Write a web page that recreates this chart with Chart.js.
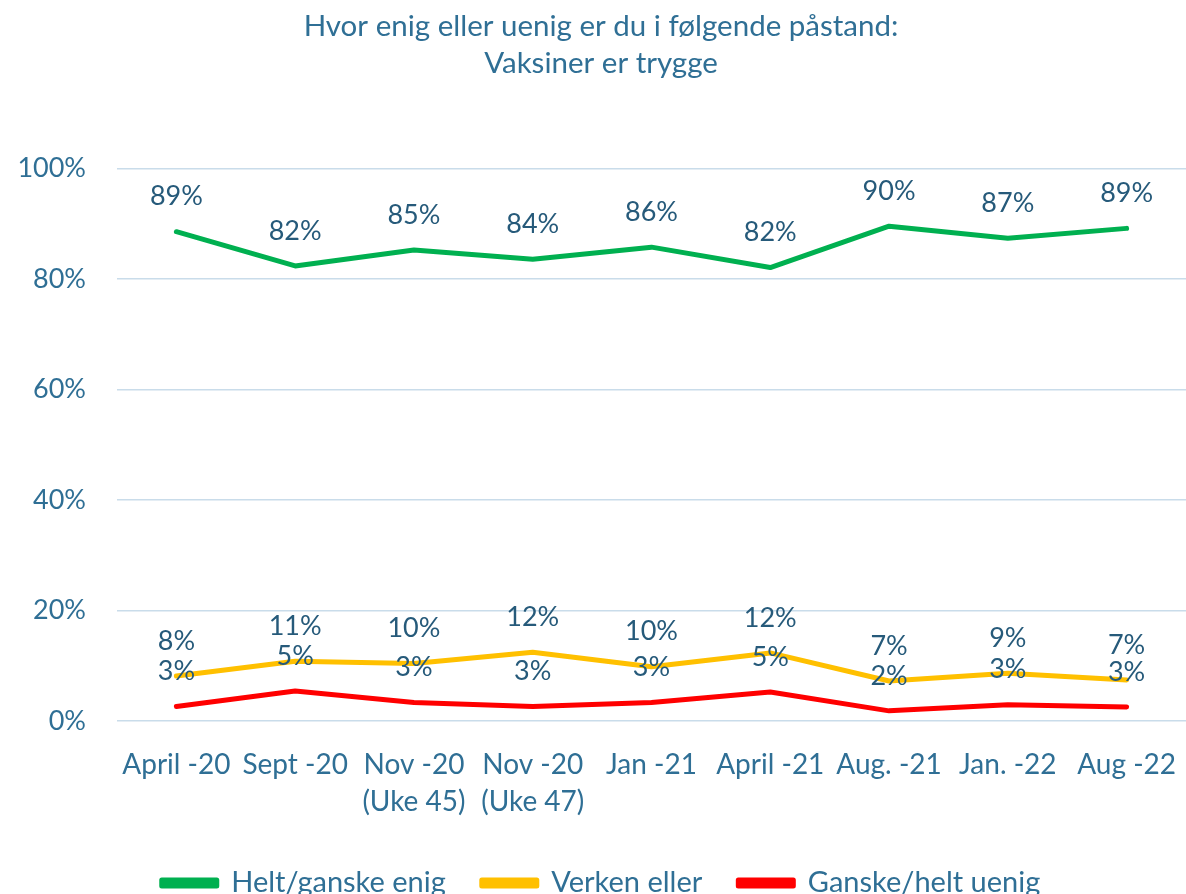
<!DOCTYPE html>
<html>
<head>
<meta charset="utf-8">
<script src="https://cdn.jsdelivr.net/npm/chart.js@4/dist/chart.umd.min.js"></script>
<style>
  html, body { margin: 0; padding: 0; background: #ffffff; }
  #wrap { width: 1186px; height: 894px; position: relative; overflow: hidden; }
</style>
</head>
<body>
<div id="wrap"><canvas id="c" width="1186" height="894"></canvas></div>
<script>
const categories = [
  "April -20", "Sept -20", ["Nov -20", "(Uke 45)"], ["Nov -20", "(Uke 47)"],
  "Jan -21", "April -21", "Aug. -21", "Jan. -22", "Aug -22"
];
const enigValues   = [88.6, 82.4, 85.3, 83.6, 85.8, 82.1, 89.6, 87.4, 89.2];
const verkenValues = [8.1, 10.8, 10.4, 12.4, 9.8, 12.3, 7.2, 8.6, 7.4];
const uenigValues  = [2.6, 5.4, 3.3, 2.6, 3.3, 5.2, 1.8, 2.9, 2.5];
const seriesNames  = ["Helt/ganske enig", "Verken eller", "Ganske/helt uenig"];
const yTicks = [0, 20, 40, 60, 80, 100];
const titleLines = ["Hvor enig eller uenig er du i følgende påstand:", "Vaksiner er trygge"];

const FONT = "Lato, 'Open Sans', sans-serif";
const AXIS_COLOR = "#2f6f95";
const LABEL_COLOR = "#265a7a";

const dataLabelPlugin = {
  id: "dataLabels",
  afterDatasetsDraw(chart) {
    const ctx = chart.ctx;
    ctx.save();
    ctx.font = "27px " + FONT;
    ctx.fillStyle = LABEL_COLOR;
    ctx.textAlign = "center";
    ctx.textBaseline = "middle";
    chart.data.datasets.forEach((ds, i) => {
      const meta = chart.getDatasetMeta(i);
      meta.data.forEach((pt, j) => {
        ctx.fillText(Math.round(ds.data[j]) + "%", pt.x, pt.y - 35);
      });
    });
    ctx.restore();
  }
};

new Chart(document.getElementById("c"), {
  type: "line",
  data: {
    labels: categories,
    datasets: [
      { label: seriesNames[0], data: enigValues, borderColor: "#00b050", backgroundColor: "#00b050" },
      { label: seriesNames[1], data: verkenValues, borderColor: "#ffc000", backgroundColor: "#ffc000" },
      { label: seriesNames[2], data: uenigValues, borderColor: "#ff0000", backgroundColor: "#ff0000" }
    ].map(d => Object.assign(d, {
      borderWidth: 5, pointRadius: 0, pointHoverRadius: 0, tension: 0,
      borderCapStyle: "round", borderJoinStyle: "round", fill: false
    }))
  },
  options: {
    responsive: false,
    animation: false,
    events: [],
    layout: { padding: { top: 8, right: 0, bottom: -13.4, left: 16 } },
    scales: {
      x: {
        offset: true,
        afterFit(axis) { axis.height = 111.6; },
        grid: { display: false, drawTicks: true, tickLength: 26, tickColor: "rgba(0,0,0,0)" },
        border: { display: false },
        ticks: {
          color: AXIS_COLOR, font: { family: FONT, size: 28, lineHeight: 1.32 },
          padding: 0, maxRotation: 0, autoSkip: false
        }
      },
      y: {
        min: 0, max: 100,
        afterBuildTicks(axis) { axis.ticks = yTicks.map(v => ({ value: v })); },
        afterFit(axis) { axis.width = 101; },
        grid: { color: "#c9dcea", lineWidth: 1.5, drawTicks: false },
        border: { display: false },
        ticks: {
          color: AXIS_COLOR, font: { family: FONT, size: 27 }, padding: 31,
          callback: v => v + "%"
        }
      }
    },
    plugins: {
      title: {
        display: true, text: titleLines, color: AXIS_COLOR,
        font: { family: FONT, size: 29.5, weight: "normal", lineHeight: 1.25 },
        padding: { top: 0, bottom: 87 }
      },
      legend: {
        position: "bottom",
        labels: {
          color: AXIS_COLOR, font: { family: FONT, size: 29 },
          boxWidth: 55, boxHeight: 6, padding: 36
        }
      },
      tooltip: { enabled: false }
    }
  },
  plugins: [dataLabelPlugin]
});
</script>
</body>
</html>
